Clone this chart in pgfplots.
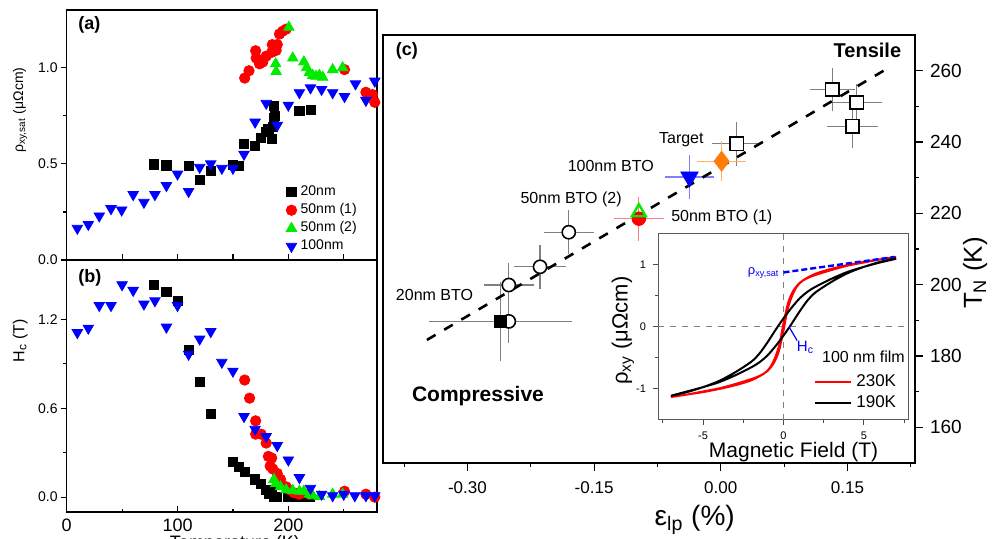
\documentclass[border=0pt]{standalone}
\usepackage{fontspec}
\setmainfont{Liberation Sans}
\usepackage{pgfplots}
\pgfplotsset{compat=1.18}
\definecolor{oblue}{RGB}{0,0,255}
\definecolor{ored}{RGB}{255,0,0}
\definecolor{ogreen}{RGB}{0,235,0}
\definecolor{oorange}{RGB}{255,125,10}
\newcommand{\fs}[1]{\fontsize{#1}{#1}\selectfont}

\pgfplotsset{
  panel/.style={scale only axis, anchor=south west,
    axis line style={line width=0.7pt},
    /pgf/number format/assume math mode=true,
    every tick/.style={black, line width=0.6pt},
    major tick length=3pt, minor tick length=1.7pt},
  sq/.style={only marks, mark=square*, black, mark size=2.3pt},
  ci/.style={only marks, mark=*, ored, mark size=2.6pt},
  tu/.style={only marks, mark=triangle*, ogreen, mark size=3pt},
  td/.style={only marks, mark=triangle*, oblue, mark size=3pt, mark options={rotate=180}},
  ebar/.style={error bars/.cd, x dir=both, x explicit, y dir=both, y explicit,
    error bar style={#1, line width=0.6pt}, error mark options={#1, mark size=2pt, line width=0.6pt}},
}

\begin{document}
\begin{tikzpicture}

% (a) saturated Hall resistivity
\begin{axis}[panel, at={(33.35pt,139.5pt)}, width=155.15pt, height=125pt,
  xmin=0, xmax=280, ymin=0, ymax=1.3,
  xtick={0,50,100,150,200,250}, xticklabels={}, xtick pos=bottom, ytick pos=left,
  ytick={0,0.5,1}, minor ytick={0.25,0.75}, tick align=inside,
  major y tick style={xshift=-3pt}, minor y tick style={xshift=-1.7pt},
  yticklabel style={font=\fs{7}, xshift=-1pt, /pgf/number format/.cd, fixed, fixed zerofill, precision=1},
  ylabel={ρ\textsubscript{xy,sat} (μΩcm)},
  ylabel style={font=\fs{7}, at={(axis description cs:-0.15,0.6)}, anchor=center},
  legend style={at={(0.687,0.33)}, anchor=north west, draw=none, fill=none, font=\fs{7}, row sep=-1.5pt},
  legend cell align=left]
\addplot[sq] coordinates {
(79,0.497) (90,0.492) (110,0.489) (120,0.418) (130,0.463) (150,0.496) (155.5,0.489)
(160,0.604) (170,0.592) (175,0.636) (180,0.665) (182,0.68) (185,0.63) (186,0.69)
(187,0.74) (188,0.75) (187,0.80) (210,0.777) (220.5,0.78)};
\addlegendentry{20nm}
\addplot[ci] coordinates {
(160.6,0.946) (164.5,0.984) (170.5,1.088) (171,1.05) (174,1.02) (177,1.03) (180,1.06)
(185,1.08) (185.5,1.12) (189,1.09) (190,1.12) (192,1.175) (195,1.19) (198,1.20)
(250.7,0.99) (270,0.872) (276,0.86) (278,0.82)};
\addlegendentry{50nm (1)}
\addplot[tu] coordinates {
(200.5,1.21) (188.6,1.02) (189,0.98) (204,1.05) (214,1.03) (216.5,1.0) (219,0.975)
(222,0.96) (225,0.955) (228,0.96) (231,0.95) (240,0.99) (249,1.0)};
\addlegendentry{50nm (2)}
\addplot[td] coordinates {
(9.6,0.165) (19.5,0.185) (29.4,0.229) (40,0.267) (49.6,0.26) (60,0.34) (69.7,0.30)
(79.6,0.34) (90,0.387) (100,0.447) (110,0.356) (120,0.482) (130,0.50) (140,0.477)
(150,0.477) (160,0.55) (170,0.717) (180,0.815) (190,0.70) (200,0.805) (210,0.87)
(220,0.895) (230,0.887) (240,0.87) (250.7,0.85) (260.6,0.916) (270,0.83) (278,0.93)};
\addlegendentry{100nm}
\node[font=\bfseries\fs{9}, anchor=west] at (axis description cs:0.015,0.94) {(a)};
\end{axis}

% (b) coercive field
\begin{axis}[panel, at={(33.35pt,13.5pt)}, width=155.15pt, height=126pt,
  xmin=0, xmax=280, ymin=-0.1, ymax=1.6,
  xtick={0,100,200}, minor xtick={50,150,250}, xtick pos=bottom, ytick pos=left,
  ytick={0,0.6,1.2}, minor ytick={0.3,0.9}, tick align=inside,
  major y tick style={xshift=-3pt}, minor y tick style={xshift=-1.7pt},
  xticklabel style={font=\fs{9}},
  yticklabel style={font=\fs{7}, xshift=-1pt, /pgf/number format/.cd, fixed, fixed zerofill, precision=1},
  ylabel={H\textsubscript{c} (T)},
  ylabel style={font=\fs{8}, at={(axis description cs:-0.15,0.68)}, anchor=center}]
\addplot[sq] coordinates {
(79,1.434) (90,1.383) (100.5,1.326) (110,0.995) (120,0.78) (130,0.562) (150,0.239)
(155.5,0.205) (160.6,0.17) (170,0.12) (175,0.09) (180,0.05) (183,0.02) (185,0.05)
(187,0) (190,0) (200,0) (210,0) (219,0)};
\addplot[ci] coordinates {
(160.6,0.79) (165,0.668) (170.5,0.515) (170.5,0.425) (175.5,0.425) (180,0.365)
(182,0.275) (185,0.264) (183.6,0.21) (186,0.19) (190,0.16) (193,0.12) (198,0.07)
(201,0.05) (205,0.03) (210,0.02) (219,0.02) (250.7,0.04) (270,0.02) (278,0)};
\addplot[tu] coordinates {
(187,0.12) (188.6,0.09) (193,0.07) (198,0.05) (204,0.045) (210,0.04) (214,0.04)
(219,0.02) (222,0.01) (228,0.005) (240,0.02) (249,0.02)};
\addplot[td] coordinates {
(9.6,1.11) (19.5,1.14) (29.4,1.293) (40,1.293) (50,1.433) (60,1.395) (69.7,1.303)
(79.6,1.325) (90,1.147) (100,1.293) (110,0.964) (120,1.067) (130,1.117) (140,0.91)
(150,0.85) (160,0.544) (170,0.458) (180,0.409) (190,0.348) (200,0.251) (210,0.132)
(220,0.06) (230,0.02) (240,0.01) (250,0.02) (260,0.01) (270,0.01) (278,0.01)};
\node[font=\bfseries\fs{9}, anchor=west] at (axis description cs:0.015,0.93) {(b)};
\end{axis}

% (c) Neel temperature vs in-plane strain
\begin{axis}[panel, at={(191.5pt,38pt)}, width=266pt, height=214pt,
  xmin=-0.40, xmax=0.23, ymin=150, ymax=270, clip=false,
  tick align=outside, major tick length=4pt, minor tick length=2pt,
  xtick pos=bottom, ytick pos=right, yticklabel pos=right,
  xtick={-0.3,-0.15,0,0.15}, minor xtick={-0.375,-0.225,-0.075,0.075,0.225},
  ytick={160,180,...,260}, minor ytick={170,190,...,250},
  xticklabel style={font=\fs{8.5}, yshift=-2pt, /pgf/number format/.cd, fixed, fixed zerofill, precision=2},
  yticklabel style={font=\fs{9.5}},
  xlabel={ε\textsubscript{lp} (\%)},
  xlabel style={font=\fs{14}, at={(axis description cs:0.586,-0.133)}, anchor=center},
  ylabel={T\textsubscript{N} (K)},
  ylabel style={font=\fs{13}, at={(axis description cs:1.113,0.444)}, anchor=center}]
\addplot[only marks, mark=square*, mark size=3.3pt, mark options={fill=white, draw=black, line width=0.8pt}, ebar=gray]
  table[x=x, y=y, x error=ex, y error=ey] {
x y ex ey
0.132 254.7 0.022 5
0.161 251.1 0.025 4
0.156 244.4 0.025 5
0.019 239.5 0.025 5
};
\addplot[only marks, mark=*, mark size=3.3pt, mark options={fill=white, draw=black, line width=0.8pt}, ebar=gray]
  table[x=x, y=y, x error=ex, y error=ey] {
x y ex ey
-0.180 214.7 0.025 5
-0.214 205.0 0.026 5
-0.251 199.9 0.025 5
-0.251 189.7 0.026 5
};
\addplot[only marks, mark=square*, mark size=3.2pt, black, ebar=gray]
  table[x=x, y=y, x error=ex, y error=ey] {
x y ex ey
-0.261 189.7 0.08 10
};
\addplot[only marks, mark=*, mark size=3.4pt, ored, ebar={ored!50}]
  table[x=x, y=y, x error=ex, y error=ey] {
x y ex ey
-0.097 218.5 0.025 5
};
\addplot[only marks, mark=triangle, mark size=4pt, mark options={draw=ogreen, line width=1.2pt}]
  coordinates {(-0.097,220.3)};
\addplot[only marks, mark=triangle*, mark size=5pt, oblue, mark options={rotate=180}, ebar={oblue!50}]
  table[x=x, y=y, x error=ex, y error=ey] {
x y ex ey
-0.037 230.2 0.024 5
};
\addplot[only marks, mark=diamond*, mark size=5pt, oorange, ebar={oorange!60}]
  table[x=x, y=y, x error=ex, y error=ey] {
x y ex ey
0.001 234.6 0.024 4.5
};
\addplot[black, line width=1.3pt, dash pattern=on 5pt off 5pt] coordinates {(-0.348,184.5) (0.193,260)};
\node[font=\bfseries\fs{9}, anchor=west] at (axis cs:-0.393,265.6) {(c)};
\node[font=\bfseries\fs{10}, anchor=east] at (axis cs:0.222,265.6) {Tensile};
\node[font=\bfseries\fs{10.5}, anchor=west] at (axis cs:-0.374,168.7) {Compressive};
\node[font=\fs{8}, anchor=east] at (axis cs:-0.012,240.6) {Target};
\node[font=\fs{8}, anchor=east] at (axis cs:-0.071,233.2) {100nm BTO};
\node[font=\fs{8}, anchor=east] at (axis cs:-0.109,224.0) {50nm BTO (2)};
\node[font=\fs{8}, anchor=west] at (axis cs:-0.067,219.0) {50nm BTO (1)};
\node[font=\fs{8}, anchor=east] at (axis cs:-0.285,197.2) {20nm BTO};
\end{axis}

% inset: Hall loops of the 100 nm film
\begin{axis}[panel, at={(329pt,59.5pt)}, width=125.5pt, height=93pt,
  xmin=-7.8, xmax=7.8, ymin=-1.5, ymax=1.5,
  axis background/.style={fill=white},
  axis line style={black!65, line width=0.5pt},
  tick align=outside, major tick length=2.5pt, minor tick length=1.3pt,
  every tick/.style={black!70, line width=0.5pt},
  xtick pos=bottom, ytick pos=left,
  xtick={-5,0,5}, minor xtick={-7.5,-2.5,2.5,7.5},
  ytick={-1,0,1}, minor ytick={-0.5,0.5},
  ticklabel style={font=\fs{5.5}},
  xlabel={Magnetic Field (T)},
  xlabel style={font=\fs{10.5}, at={(axis description cs:0.54,-0.175)}, anchor=center},
  ylabel={ρ\textsubscript{xy} (μΩcm)},
  ylabel style={font=\fs{11}, at={(axis description cs:-0.14,0.48)}, anchor=center},
  legend style={at={(axis description cs:0.99,0.29)}, anchor=north east, draw=none, fill=none,
    font=\fs{8.5}, row sep=-1pt},
  legend image code/.code={\draw[#1, line width=1pt] (0pt,0pt) -- (18pt,0pt);}]
\addplot[gray, dashed, line width=0.5pt, forget plot] coordinates {(-7.8,0) (7.8,0)};
\addplot[gray, dashed, line width=0.5pt, forget plot] coordinates {(0,-1.5) (0,1.5)};
\addplot[ored, line width=1pt, smooth] coordinates {
(7,1.13) (6,1.09) (5,1.04) (4,0.99) (3,0.92) (2,0.84) (1.5,0.79) (1,0.71) (0.6,0.58)
(0.3,0.40) (0.1,0.18) (0,0.06) (-0.1,-0.08) (-0.25,-0.28) (-0.5,-0.48) (-0.8,-0.64)
(-1.2,-0.75) (-2,-0.86) (-3,-0.94) (-4,-1.00) (-5,-1.05) (-6,-1.09) (-7,-1.13)
(-6,-1.09) (-5,-1.04) (-4,-0.99) (-3,-0.92) (-2,-0.84) (-1.5,-0.79) (-1,-0.71)
(-0.6,-0.58) (-0.3,-0.40) (-0.1,-0.18) (0,-0.06) (0.1,0.08) (0.25,0.28) (0.5,0.48)
(0.8,0.64) (1.2,0.75) (2,0.86) (3,0.94) (4,1.00) (5,1.05) (6,1.09) (7,1.13)};
\addlegendentry{230K}
\addplot[black, line width=1pt, smooth] coordinates {
(7,1.10) (6,1.04) (5,0.97) (4,0.89) (3,0.78) (2,0.65) (1.5,0.57) (1,0.46) (0.5,0.31)
(0,0.14) (-0.5,-0.05) (-1,-0.25) (-1.5,-0.43) (-2,-0.56) (-3,-0.73) (-4,-0.87)
(-5,-0.97) (-6,-1.05) (-7,-1.11)
(-6,-1.04) (-5,-0.97) (-4,-0.89) (-3,-0.78) (-2,-0.65) (-1.5,-0.57) (-1,-0.46)
(-0.5,-0.31) (0,-0.14) (0.5,0.05) (1,0.25) (1.5,0.43) (2,0.56) (3,0.73) (4,0.87)
(5,0.97) (6,1.05) (7,1.11)};
\addlegendentry{190K}
\addplot[oblue, line width=1.2pt, dash pattern=on 3pt off 1.5pt, forget plot] coordinates {(0,0.88) (6.9,1.13)};
\draw[oblue, line width=0.6pt] (axis cs:0.35,0) -- (axis cs:0.85,-0.22);
\node[oblue, font=\fs{7.5}, anchor=west, inner sep=0.5pt] at (axis cs:0.75,-0.33) {H\textsubscript{c}};
\node[oblue, font=\fs{6.5}, anchor=east, inner sep=1pt] at (axis cs:-0.1,0.87) {ρ\textsubscript{xy,sat}};
\node[font=\fs{8}, anchor=east, inner sep=0pt] at (axis description cs:0.985,0.34) {100 nm film};
\end{axis}

\node[font=\fs{9}, anchor=north, inner sep=0pt] at (117.5pt,2pt) {Temperature (K)};
\pgfresetboundingbox
\useasboundingbox (0pt,0pt) rectangle (499pt,269.5pt);
\end{tikzpicture}
\end{document}
